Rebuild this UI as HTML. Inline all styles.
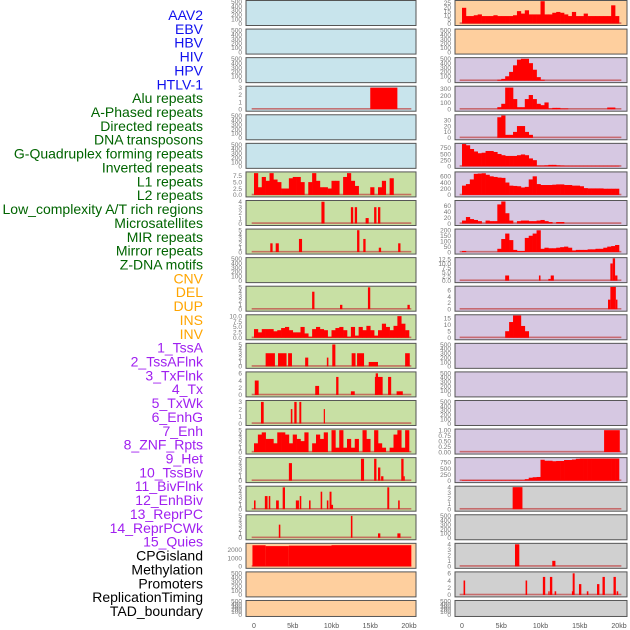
<!DOCTYPE html>
<html><head><meta charset="utf-8"><style>
body{margin:0;background:#fff;width:630px;height:630px;overflow:hidden}
svg{display:block}
</style></head><body>
<svg id="chart" width="630" height="630" xmlns="http://www.w3.org/2000/svg"></svg>
<script>
// ---- labels ----
const labels = ["AAV2","EBV","HBV","HIV","HPV","HTLV-1","Alu repeats","A-Phased repeats","Directed repeats","DNA transposons","G-Quadruplex forming repeats","Inverted repeats","L1 repeats","L2 repeats","Low_complexity A/T rich regions","Microsatellites","MIR repeats","Mirror repeats","Z-DNA motifs","CNV","DEL","DUP","INS","INV","1_TssA","2_TssAFlnk","3_TxFlnk","4_Tx","5_TxWk","6_EnhG","7_Enh","8_ZNF_Rpts","9_Het","10_TssBiv","11_BivFlnk","12_EnhBiv","13_ReprPC","14_ReprPCWk","15_Quies","CPGisland","Methylation","Promoters","ReplicationTiming","TAD_boundary"];
const labelGroups = [0,0,0,0,0,0,1,1,1,1,1,1,1,1,1,1,1,1,1,2,2,2,2,2,3,3,3,3,3,3,3,3,3,3,3,3,3,3,3,4,4,4,4,4];
const xTickLabels = ["0","5kb","10kb","15kb","20kb"];
const xTickValues = [0,5,10,15,20];
const EMPTY = [0,100,200,300,400,500];

// ---- left column data (segments: [startKb,endKb,value]; bins: 0.5kb bins) ----
const L3 = [[15,18.5,3]];
const L6bins = [8.5,3,7,5.5,8.5,6,5,2.5,2.5,6.5,7,7,5,0,5,8.5,5.5,3,3,2.5,5.5,5.5,0,7,8.5,5.5,3.5,0,0,0,3,0,3,5.5,0,6.5,0,0,0,0];
const L7 = [[8.7,9.1,4],[12.5,12.8,3],[13,13.3,3],[14.4,14.8,1],[15.5,15.8,3],[16,16.3,3]];
const L8 = [[2.1,2.4,2],[2.8,3.2,2],[5.8,6.2,3],[13.3,13.6,5],[14.1,14.4,3],[16.1,16.4,1],[18.6,18.9,2]];
const L10 = [[7.5,7.8,4],[11.1,11.4,1],[14.7,15,5],[19.8,20.1,1]];
const L11bins = [4,2.5,4,4,4,3,3.5,4.5,5,3.5,2.5,2.5,5,2,0.5,4,5,4,3.5,0.5,3.5,4.5,5,3.5,0.5,5,1,5,3.5,5.5,3.5,1,3.5,6.5,5,3.5,5.5,10,6.5,3.5];
const L12 = [[1.5,2.7,3],[3.1,4.2,3],[4.4,4.9,3],[6.6,7,2],[9.4,9.6,2],[10.1,10.5,5],[12.6,13.1,3],[13.3,14.2,3],[14.8,16,1],[19.5,20.1,3]];
const L13 = [[0.1,0.6,4],[7.9,8.4,2.5],[10.6,10.9,5],[12.5,13,1],[15.6,16.6,5],[15.7,16,6],[17.3,17.7,5],[18.4,19.2,1]];
const L14 = [[0.9,1.25,3],[4.75,4.95,2],[5.2,5.5,3],[5.85,6.1,3],[9,9.15,2]];
const L15bins = [2,4,4.5,3,3,2,4.5,4.5,4,2,4,3,2.5,4.5,0,2,4,3,4.5,0,5,1,5,1,3,1,3,0,5,3,0,5,2,1,0,1,4,5,1,5];
const L16 = [[4.5,4.9,4],[13.8,14.2,5],[15.5,15.8,5],[16,16.3,3],[16.4,16.7,1],[19,19.3,5],[19.3,19.45,1]];
const L17 = [[0,0.2,2],[1.4,1.75,3],[1.9,2.1,3],[2.85,3.2,2],[3.7,4,5],[5.4,5.8,2],[5.9,6.1,3],[7.1,7.3,2],[8.6,8.8,4],[9.4,9.6,2],[9.75,10,4],[10,10.2,1],[17.2,17.45,5],[18.6,18.8,2]];
const L18 = [[3.2,3.4,3],[12.5,12.7,5],[16,16.3,1],[18.5,18.9,1]];
const L19 = [[-0.2,1.5,2550],[1.5,4.5,2450],[4.5,10,2500],[10,20.3,2560]];

// ---- right column data ----
const R0bins = [19,9,9,10,11,9,9,9,10,9,9,9,9,10,15,12,16,11,11,11,27,11,11,13,14,13,11,9,14,9,9,12,9,9,9,9,9,9,22,9];
const R2bins = [0,0,0,0,0,0,0,0,0,20,40,100,200,350,480,500,500,400,250,80,20,0,0,0,0,0,0,0,0,0,0,0,0,0,0,0,0,0,0,0];
const R3bins = [0,0,0,0,0,0,0,0,0,30,80,320,320,150,30,30,150,210,150,80,60,100,10,20,20,10,10,0,0,0,0,0,0,0,0,0,0,25,25,0];
const R4bins = [0,0,0,0,0,0,0,0,0,35,38,5,5,10,20,20,10,5,0,0,0,0,0,0,0,0,0,0,0,0,0,0,0,0,0,0,0,0,0,0];
const R5bins = [900,850,700,600,530,550,620,620,580,500,450,420,420,420,450,480,450,320,250,30,30,40,60,60,40,30,20,20,20,20,20,20,20,20,20,20,20,20,20,20];
const R6bins = [300,350,500,680,690,700,650,600,580,560,550,400,300,290,280,240,260,500,600,350,320,320,320,330,340,340,320,320,300,300,280,220,210,210,210,210,200,200,200,200];
const R7bins = [10,22,15,12,8,0,10,8,8,65,75,35,10,0,8,10,10,8,8,10,12,8,5,0,5,5,0,0,0,0,0,0,0,0,0,0,0,0,0,0];
const R8bins = [10,0,0,0,0,0,0,0,0,30,120,170,110,20,10,10,130,150,170,200,30,40,35,35,40,45,50,40,15,20,20,20,25,25,30,30,40,50,55,65];
const R9 = [[5.5,6,3],[9.8,10,3],[11,11.3,1],[11.3,11.7,3],[18.9,19.2,10],[19.2,19.5,13],[19.5,19.8,3]];
const R10 = [[18.6,18.9,3],[18.9,19.6,7],[19.6,19.8,3]];
const R11bins = [0,0,0,0,0,0,0,0,0,0,0,5,12,17,17,9,5,0,0,0,0,0,0,0,0,0,0,0,0,0,0,0,0,0,0,0,0,0,0,0];
const R15 = [[18.1,20.1,1]];
const R16bins = [20,20,20,20,20,20,20,20,20,20,20,20,20,20,20,20,60,120,140,150,860,820,820,800,810,810,850,850,870,900,910,910,910,910,910,910,910,910,910,910];
const R17 = [[6.45,7.7,4]];
const R19 = [[6.75,7.3,4],[11.5,11.9,1]];
const R20 = [[0.2,0.4,4],[8.1,8.3,4],[10.3,10.6,5],[11,11.15,1],[11.2,11.5,5],[11.8,12,1],[14.1,14.35,6],[14,14.1,1],[14.9,15.2,3],[15.9,16.1,1],[17.2,17.5,3],[17.9,18.2,5],[19.3,19.6,5],[19.7,19.9,1]];

const BLUE="#c8e4ec",GREEN="#c8e0a4",PEACH="#fecf9e",LAV="#d6c8e2",GREY="#d0d0d0";
function panel(bg,ticks,max,segs,bins,fmt){return {bg,ticks,max,segs,bins,fmt};}
const leftPanels = [
 panel(BLUE,EMPTY,510),panel(BLUE,EMPTY,510),panel(BLUE,EMPTY,510),
 panel(BLUE,[0,1,2,3],3.1,L3),panel(BLUE,EMPTY,510),panel(BLUE,EMPTY,510),
 panel(GREEN,[0,2.5,5,7.5],8.7,null,L6bins,1),panel(GREEN,[0,1,2,3,4],4.1,L7),
 panel(GREEN,[0,1,2,3,4,5],5.1,L8),panel(GREEN,EMPTY,510),
 panel(GREEN,[0,1,2,3,4,5],5.1,L10),panel(GREEN,[0,2.5,5,7.5,10],10.3,null,L11bins,1),
 panel(GREEN,[0,1,2,3,4,5],5.1,L12),panel(GREEN,[0,2,4,6],6.2,L13),
 panel(GREEN,[0,1,2,3],3.1,L14),panel(GREEN,[0,1,2,3,4,5],5.1,null,L15bins),
 panel(GREEN,[0,1,2,3,4,5],5.1,L16),panel(GREEN,[0,1,2,3,4,5],5.1,L17),
 panel(GREEN,[0,1,2,3,4,5],5.1,L18),panel(PEACH,[0,1000,2000],2700,L19),
 panel(PEACH,EMPTY,510),panel(PEACH,EMPTY,510)];
const rightPanels = [
 panel(PEACH,[0,5,10,15,20,25],27,null,R0bins),panel(PEACH,EMPTY,510),
 panel(LAV,EMPTY,510,null,R2bins),panel(LAV,[0,100,200,300],330,null,R3bins),
 panel(LAV,[0,10,20,30],38,null,R4bins),panel(LAV,[0,250,500,750],900,null,R5bins),
 panel(LAV,[0,200,400,600],720,null,R6bins),panel(LAV,[0,20,40,60],76,null,R7bins),
 panel(LAV,[0,50,100,150,200],205,null,R8bins),panel(LAV,[0,2.5,5,7.5,10,12.5],13,R9,null,1),
 panel(LAV,[0,2,4,6],7,R10),panel(LAV,[0,5,10,15],17,null,R11bins),
 panel(LAV,EMPTY,510),panel(LAV,EMPTY,510),panel(LAV,EMPTY,510),
 panel(LAV,[0,0.25,0.5,0.75,1],1.02,R15,null,2),panel(LAV,[0,250,500,750],920,null,R16bins),
 panel(GREY,[0,1,2,3,4],4.05,R17),panel(GREY,EMPTY,510),
 panel(GREY,[0,1,2,3,4],4.05,R19),panel(GREY,[0,2,4,6],6.2,R20),panel(GREY,EMPTY,510)];

const NS="http://www.w3.org/2000/svg";
const svg=document.getElementById('chart');
function mk(tag,attrs,parent){const e=document.createElementNS(NS,tag);for(const k in attrs)e.setAttribute(k,attrs[k]);(parent||svg).appendChild(e);return e;}

// labels
const labelColors=["#1010ee","#006400","#ffa500","#a020f0","#000000"];
labels.forEach((t,i)=>{
  const e=mk('text',{x:203,y:15+i*13.86+5,'text-anchor':'end','font-size':14,'font-family':'Liberation Sans, sans-serif',fill:labelColors[labelGroups[i]]});
  e.textContent=t;
  
  
});

const cols=[{x0:246,x1:416,k0:254,k20:409,tickX:242,panels:leftPanels,name:'left'},
            {x0:455,x1:627,k0:462,k20:619,tickX:451,panels:rightPanels,name:'right'}];
cols.forEach(c=>{
  const xs=kb=>c.k0+(kb/20)*(c.k20-c.k0);
  c.panels.forEach((p,i)=>{
    const top=i*28.57, h=(i===21)?16:25;
    const g=mk('g',{});
    
    
    mk('rect',{x:c.x0,y:top+0.5,width:c.x1-c.x0,height:h,fill:p.bg},g);
    const zero=top+h-1.5, ytop=top+1.2;
    const ys=v=>zero-(v/p.max)*(zero-ytop);
    const hasData=!!(p.segs||p.bins);
    if(hasData) mk('rect',{x:xs(-0.3),y:zero-1.2,width:xs(20.3)-xs(-0.3),height:1.6,fill:'#c04040',opacity:0.7},g);
    if(p.bins){p.bins.forEach((v,j)=>{if(v<=0)return;const b=mk('rect',{x:xs(j*0.5),y:ys(v),width:xs(j*0.5+0.5)-xs(j*0.5)+0.3,height:zero-ys(v),fill:'#ff0000'},g);
      });}
    if(p.segs){p.segs.forEach(s=>{const b=mk('rect',{x:xs(s[0]),y:ys(s[2]),width:Math.max(1.2,xs(s[1])-xs(s[0])),height:zero-ys(s[2]),fill:'#ff0000'},g);
      });}
    mk('rect',{x:c.x0,y:top+0.5,width:c.x1-c.x0,height:h,fill:'none',stroke:'#555',"stroke-width":1},g);
    p.ticks.forEach(t=>{
      const y=ys(t);
      const tx=mk('text',{x:c.tickX,y:y+2.3,'text-anchor':'end','font-size':6.5,'font-family':'Liberation Sans, sans-serif',fill:'#777'},g);
      tx.textContent=p.fmt===2?t.toFixed(2):(p.fmt===1?t.toFixed(1):String(t));
      
    });
  });
  xTickValues.forEach((v,j)=>{
    const t=mk('text',{x:xs(v),y:628,'text-anchor':'middle','font-size':7,'font-family':'Liberation Sans, sans-serif',fill:'#555'});
    t.textContent=xTickLabels[j];
    
    
  });
});
</script>
</body></html>
